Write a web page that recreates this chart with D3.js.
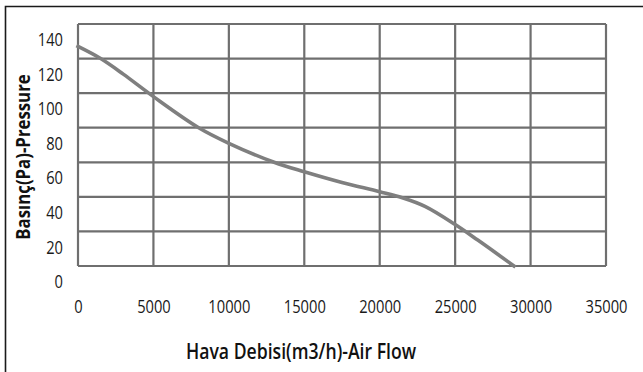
<!DOCTYPE html>
<html>
<head>
<meta charset="utf-8">
<script src="https://cdn.jsdelivr.net/npm/d3@7"></script>
<style>
  html, body { margin: 0; padding: 0; background: #fff; }
  svg { display: block; }
</style>
</head>
<body>
<svg id="chart" width="643" height="372"></svg>
<script>
// Fan performance curve: static pressure against air flow
const flow = [0, 1500, 3000, 5000, 8000, 10000, 13000, 15000, 17500, 20000, 21500, 23000, 25000, 26500, 28900];
const pressure = [127, 120, 111, 98, 80, 71, 60, 54.5, 48.3, 43, 39.5, 34.5, 24, 15, 0];

const xTicks = [0, 5000, 10000, 15000, 20000, 25000, 30000, 35000];
const yTicks = [0, 20, 40, 60, 80, 100, 120, 140];

const xTitle = "Hava Debisi(m3/h)-Air Flow";
const yTitle = "Basınç(Pa)-Pressure";

const W = 643, H = 372;
const plot = { left: 78, right: 606, top: 24, bottom: 266 };

const svg = d3.select("#chart");
const font = "'Open Sans', sans-serif";
const narrow = "scale(0.84,1)"; // condensed look for all text

const x = d3.scaleLinear().domain([0, 35000]).range([plot.left, plot.right]);
const y = d3.scaleLinear().domain([0, 140]).range([plot.bottom, plot.top]);

// outer frame (left and top edges)
svg.append("path")
  .attr("d", `M5.5,${H} V6.5 H${W}`)
  .attr("fill", "none")
  .attr("stroke", "#1a1a1a")
  .attr("stroke-width", 1.6);

// grid
const grid = svg.append("g").attr("stroke", "#6f6f6f").attr("stroke-width", 2.2);
grid.selectAll("line.v").data(xTicks).join("line")
  .attr("class", "v")
  .attr("x1", d => x(d)).attr("x2", d => x(d))
  .attr("y1", plot.top).attr("y2", plot.bottom);
grid.selectAll("line.h").data(yTicks).join("line")
  .attr("class", "h")
  .attr("x1", plot.left).attr("x2", plot.right)
  .attr("y1", d => y(d)).attr("y2", d => y(d));

// x tick labels
const xAxis = d3.axisBottom(x).tickValues(xTicks).tickSize(0).tickPadding(0).tickFormat(d3.format("d"));
const gx = svg.append("g").attr("transform", `translate(0,${plot.bottom + 47})`).call(xAxis);
gx.select(".domain").remove();
gx.selectAll("text")
  .attr("font-family", font).attr("font-size", 17.5).attr("fill", "#1a1a1a")
  .attr("dy", "0").attr("transform", narrow);

// y tick labels (sit half a row below their grid lines)
const yAxis = d3.axisLeft(y).tickValues(yTicks).tickSize(0).tickPadding(0).tickFormat(d3.format("d"));
const gy = svg.append("g").attr("transform", `translate(${plot.left - 15},16)`).call(yAxis);
gy.select(".domain").remove();
gy.selectAll("text")
  .attr("font-family", font).attr("font-size", 17.5).attr("fill", "#1a1a1a")
  .attr("transform", narrow);

// performance curve
const line = d3.line()
  .x((d, i) => x(flow[i]))
  .y(d => y(d))
  .curve(d3.curveCatmullRom.alpha(0.5));
svg.append("path")
  .datum(pressure)
  .attr("d", line)
  .attr("fill", "none")
  .attr("stroke", "#7f7f7f")
  .attr("stroke-width", 3.6)
  .attr("stroke-linecap", "square");

// axis titles
svg.append("text")
  .attr("transform", `translate(301,359) ${narrow}`)
  .attr("text-anchor", "middle")
  .attr("font-family", font).attr("font-weight", 600)
  .attr("font-size", 21).attr("fill", "#111")
  .text(xTitle);

svg.append("text")
  .attr("transform", `translate(30,157) rotate(-90) ${narrow}`)
  .attr("text-anchor", "middle")
  .attr("font-family", font).attr("font-weight", "bold")
  .attr("font-size", 20).attr("fill", "#111")
  .text(yTitle);
</script>
</body>
</html>
